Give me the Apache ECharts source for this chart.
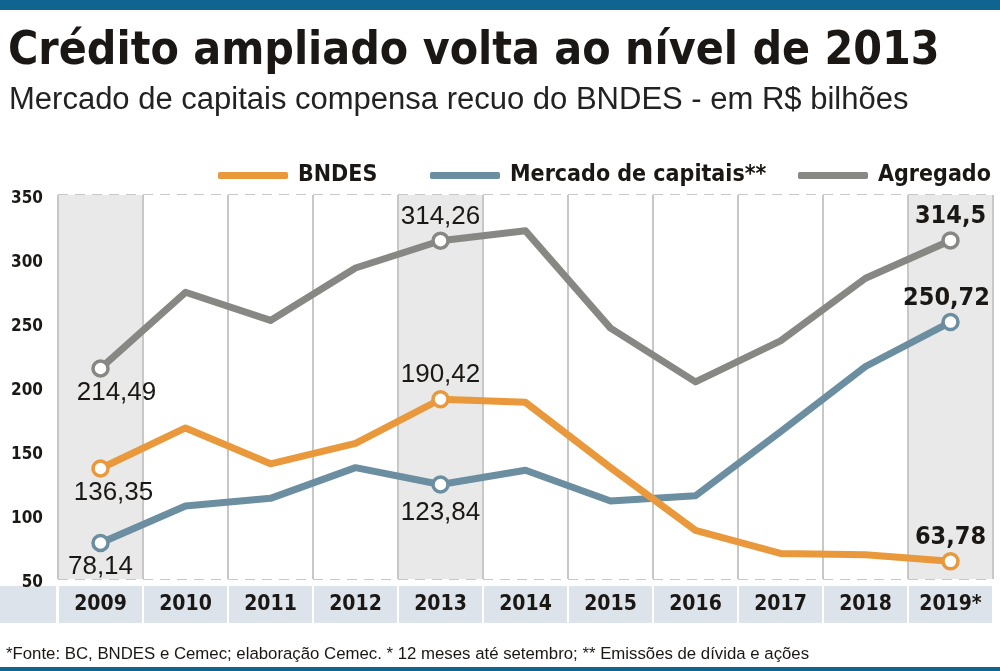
<!DOCTYPE html>
<html>
<head>
<meta charset="utf-8">
<title>Crédito ampliado</title>
<script src="https://cdn.jsdelivr.net/npm/echarts/dist/echarts.min.js"></script>
<style>
  html, body { margin: 0; padding: 0; background: #fff; }
  #container { width: 1000px; height: 671px; }
</style>
</head>
<body>
<div id="container"></div>
<script>
var years = ['2009', '2010', '2011', '2012', '2013', '2014', '2015', '2016', '2017', '2018', '2019*'];
var bndes = [136.35, 168, 140, 156, 190.42, 188, 137, 88, 70, 69, 63.78];
var mercado = [78.14, 107, 113, 137, 123.84, 135, 111, 115, 165, 216, 250.72];
var agregado = [214.49, 274, 252, 293, 314.26, 322, 246, 204, 236, 285, 314.5];
var highlightYears = ['2009', '2013', '2019*'];
var yTicks = [50, 100, 150, 200, 250, 300, 350];

(function(){
    var dom = document.getElementById('container');
    var myChart = echarts.init(dom);

    var COND = "'DejaVu Sans Condensed', 'DejaVu Sans', sans-serif";
    var PLAIN = "'Liberation Sans', Arial, sans-serif";
    var INK = '#1b1714';
    var ORANGE = '#e9993b';
    var BLUE = '#6b8fa1';
    var GREY = '#878883';

    function fmt(v) {
        return String(v).replace('.', ',');
    }

    // marcadores e rótulos só nos anos destacados
    function buildData(values, color, labelPos) {
        return values.map(function (v, i) {
            var cat = years[i];
            if (highlightYears.indexOf(cat) < 0) return v;
            var last = i === values.length - 1;
            var pos = labelPos[cat];
            return {
                value: v,
                symbol: 'circle',
                symbolSize: 15,
                itemStyle: { color: '#fff', borderColor: color, borderWidth: 3.5 },
                label: {
                    show: true,
                    position: pos.position,
                    offset: pos.offset || [0, 0],
                    distance: 2,
                    formatter: function (p) { return fmt(p.value); },
                    fontFamily: last ? COND : PLAIN,
                    fontWeight: last ? 'bold' : 'normal',
                    fontSize: last ? 25 : 26,
                    color: INK
                }
            };
        });
    }

    function lineSeries(name, values, color, labelPos, z) {
        return {
            name: name,
            type: 'line',
            symbol: 'none',
            showSymbol: true,
            z: z,
            color: color,
            lineStyle: { color: color, width: 7, cap: 'round', join: 'round' },
            label: { show: false },
            emphasis: { disabled: true },
            data: buildData(values, color, labelPos)
        };
    }

    function legendItem(name, left) {
        return {
            data: [name],
            left: left,
            top: 164,
            padding: 0,
            icon: 'roundRect',
            itemWidth: 70,
            itemHeight: 7,
            selectedMode: false,
            itemStyle: { borderWidth: 0 },
            textStyle: {
                fontFamily: COND,
                fontWeight: 'bold',
                fontSize: 23,
                color: INK,
                padding: [0, 0, 0, 5]
            }
        };
    }

    var shadeColors = years.map(function (y) {
        return highlightYears.indexOf(y) >= 0 ? '#e9e9e9' : '#ffffff';
    });

    option = {
        animation: false,
        backgroundColor: '#fff',
        title: [
            {
                text: 'Crédito ampliado volta ao nível de 2013',
                left: 3,
                top: 24,
                textStyle: { fontFamily: COND, fontWeight: 'bold', fontSize: 46, color: INK }
            },
            {
                text: 'Mercado de capitais compensa recuo do BNDES - em R$ bilhões',
                left: 4,
                top: 80,
                textStyle: { fontFamily: PLAIN, fontWeight: 'normal', fontSize: 31, color: '#222' }
            },
            {
                text: '*Fonte: BC, BNDES e Cemec; elaboração Cemec. * 12 meses até setembro; ** Emissões de dívida e ações',
                left: 1,
                top: 641,
                textStyle: { fontFamily: PLAIN, fontWeight: 'normal', fontSize: 16.8, color: INK }
            }
        ],
        legend: [
            legendItem('BNDES', 218),
            legendItem('Mercado de capitais**', 430),
            legendItem('Agregado', 798)
        ],
        graphic: [
            { type: 'rect', left: 0, top: 0, shape: { width: 1000, height: 10 }, style: { fill: '#0f6590' } },
            { type: 'rect', left: 0, top: 667, shape: { width: 1000, height: 4 }, style: { fill: '#0f6590' } },
            { type: 'rect', left: 0, top: 586, shape: { width: 56, height: 37 }, style: { fill: '#dce3ea' } }
        ],
        grid: { left: 58, right: 7, top: 195, bottom: 92 },
        xAxis: {
            type: 'category',
            data: years,
            boundaryGap: true,
            axisLine: { show: false },
            axisTick: { show: false },
            axisLabel: {
                interval: 0,
                margin: 7,
                width: 83,
                height: 37,
                lineHeight: 37,
                align: 'center',
                backgroundColor: '#dce3ea',
                fontFamily: COND,
                fontWeight: 'bold',
                fontSize: 21,
                color: INK
            },
            splitLine: { show: true, lineStyle: { color: '#c8c8c8', width: 2 } },
            splitArea: { show: true, areaStyle: { color: shadeColors } }
        },
        yAxis: {
            type: 'value',
            min: yTicks[0],
            max: yTicks[yTicks.length - 1],
            interval: 50,
            axisLine: { show: false },
            axisTick: { show: false },
            axisLabel: {
                margin: 15,
                verticalAlign: 'top',
                lineHeight: 8,
                fontFamily: COND,
                fontWeight: 'bold',
                fontSize: 17,
                color: INK
            },
            splitLine: { show: true, lineStyle: { color: '#c8c8c8', width: 2, type: [10, 7] } }
        },
        series: [
            lineSeries('Agregado', agregado, GREY, {
                '2009': { position: 'bottom', offset: [16, 0] },
                '2013': { position: 'top' },
                '2019*': { position: 'top' }
            }, 3),
            lineSeries('Mercado de capitais**', mercado, BLUE, {
                '2009': { position: 'bottom', offset: [0, 0] },
                '2013': { position: 'bottom', offset: [0, 4] },
                '2019*': { position: 'top', offset: [-4, 0] }
            }, 4),
            lineSeries('BNDES', bndes, ORANGE, {
                '2009': { position: 'bottom', offset: [13, 0] },
                '2013': { position: 'top' },
                '2019*': { position: 'top' }
            }, 5)
        ]
    };

    if (option && typeof option === 'object') {
        myChart.setOption(option, true);
    }
})();
</script>
</body>
</html>
